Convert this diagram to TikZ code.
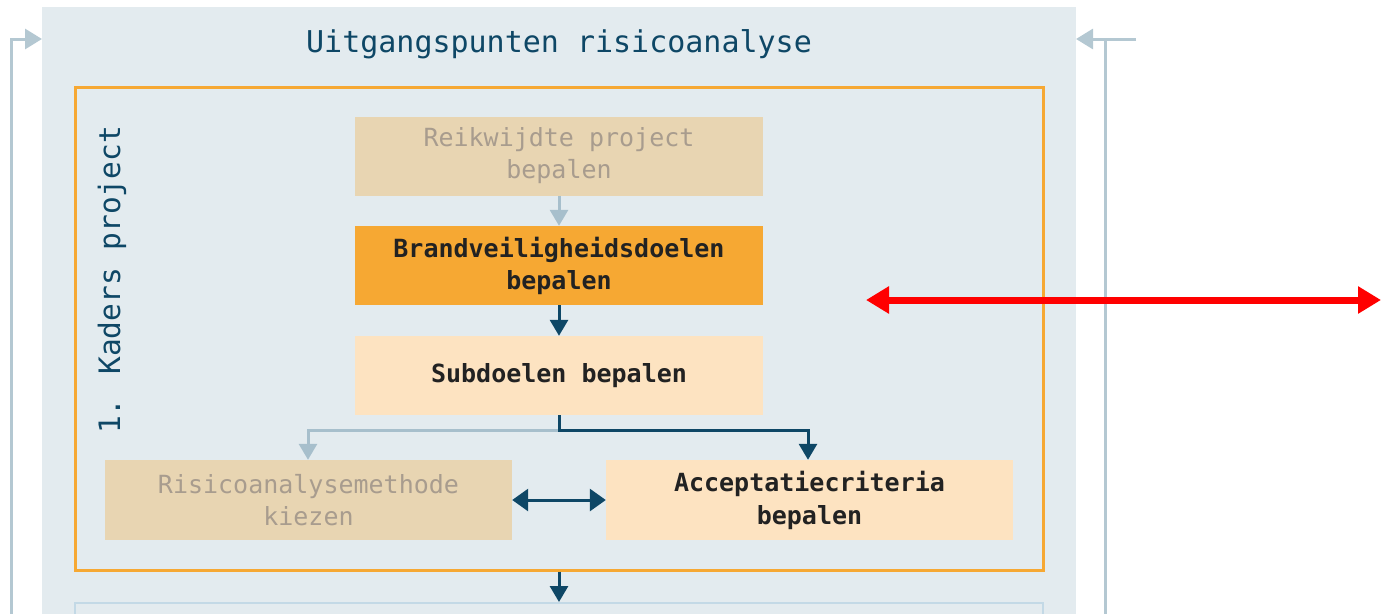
\documentclass[tikz,border=0pt]{standalone}
\usepackage{fontspec}
\usetikzlibrary{arrows.meta}
\newfontfamily\monofont{DejaVu Sans Mono}

\definecolor{panelbg}{HTML}{E3EBEF}
\definecolor{deepteal}{HTML}{0E4766}
\definecolor{softblue}{HTML}{A7BFCC}
\definecolor{loopblue}{HTML}{B4C8D2}
\definecolor{beige}{HTML}{E8D5B2}
\definecolor{beigetext}{HTML}{A89C8E}
\definecolor{amber}{HTML}{F6A833}
\definecolor{pale}{HTML}{FDE3C1}
\definecolor{inktext}{HTML}{222222}
\definecolor{nextline}{HTML}{C3D9E6}

\tikzset{
  x=1pt, y=-1pt,
  stepbox/.style={rectangle, inner sep=0pt, minimum width=408pt, minimum height=79pt,
    align=center, font=\monofont\fontsize{25}{32}\selectfont},
  faded/.style={stepbox, fill=beige, text=beigetext},
  active/.style={stepbox, fill=pale, text=inktext, font=\monofont\bfseries\fontsize{25}{33}\selectfont},
  focus/.style={stepbox, fill=amber, text=inktext, font=\monofont\bfseries\fontsize{25}{32}\selectfont},
  darkflow/.style={draw=deepteal, line width=3pt, -{Triangle[length=16pt,width=18pt]}},
  lightflow/.style={draw=softblue, line width=3pt, -{Triangle[length=16pt,width=18pt]}},
  loopflow/.style={draw=loopblue, line width=3pt, -{Triangle[length=17pt,width=20pt]}},
  mark red/.style={draw=red, line width=7pt, {Triangle[length=23pt,width=26pt]}-{Triangle[length=23pt,width=26pt]}},
}

\begin{document}
\begin{tikzpicture}
\useasboundingbox (0,0) rectangle (1381,613);
\clip (0,0) rectangle (1381,613);

% background panel and its heading
\node[rectangle, fill=panelbg, inner sep=0pt, minimum width=1034pt, minimum height=640pt, anchor=north west]
  (panel) at (42,7) {};
\node[text=deepteal, font=\monofont\fontsize{30}{36}\selectfont] (title) at (559,44) {Uitgangspunten risicoanalyse};

% phase frame
\node[rectangle, draw=amber, line width=3pt, inner sep=0pt, minimum width=968pt, minimum height=483pt]
  (kader) at (559,328.5) {};
\node[rotate=90, text=deepteal, font=\monofont\fontsize{29.5}{35}\selectfont] (kaderlabel) at (112,280) {1. Kaders project};

% next phase box (continues below)
\node[rectangle, draw=nextline, line width=2pt, inner sep=0pt, minimum width=968pt, minimum height=80pt, anchor=north]
  (next) at (559,602) {};

% steps
\node[faded] (reik) at (559,156) {Reikwijdte project\\bepalen};
\node[focus] (brand) at (559,265.5) {Brandveiligheidsdoelen\\bepalen};
\node[active, font=\monofont\bfseries\fontsize{25}{32}\selectfont] (sub) at (559,375.5) {Subdoelen bepalen};
\node[faded, minimum width=407pt, minimum height=80pt] (ris) at (308.5,500) {Risicoanalysemethode\\kiezen};
\node[active, minimum width=407pt, minimum height=80pt] (acc) at (809.5,500) {Acceptatiecriteria\\bepalen};

% flow inside the frame
\draw[lightflow] (reik.south) -- (brand.north);
\draw[darkflow] (brand.south) -- (sub.north);
\coordinate (split) at (559,430);
\draw[lightflow] (split) -| (ris.north -| 308,0);
\draw[darkflow] (sub.south) -- (split) -| (acc.north -| 808,0);
\draw[draw=deepteal, line width=3pt, {Triangle[length=16pt,width=22pt]}-{Triangle[length=16pt,width=22pt]}]
  (ris.east) -- (acc.west);
\draw[darkflow] (kader.south) -- (next.north);

% feedback loops on both sides
\coordinate (loopL) at (11,640);
\coordinate (inL) at (42,39);
\draw[loopflow] (loopL) |- (inL);
\coordinate (loopR) at (1136,39);
\coordinate (inR) at (1076,39);
\draw[loopflow] (loopR) -- (inR);
\coordinate (dropR) at (1105,39);
\coordinate (dropRend) at (1105,640);
\draw[draw=loopblue, line width=3pt] (dropR) -- (dropRend);

% highlight marker
\coordinate (markL) at (866,300);
\coordinate (markR) at (1381,300);
\draw[mark red] (markL) -- (markR);
\end{tikzpicture}
\end{document}
